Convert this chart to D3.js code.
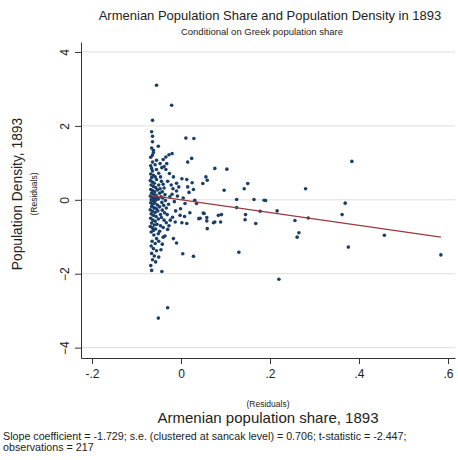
<!DOCTYPE html>
<html>
<head>
<meta charset="utf-8">
<script src="https://cdn.jsdelivr.net/npm/d3@7"></script>
<style>
  body { margin: 0; background: #fff; }
  svg { font-family: "Liberation Sans", Arial, sans-serif; }
  .grid line { stroke: #dedede; stroke-width: 1; }
  .axis path, .axis line { stroke: #333; }
  .axis text { fill: #222; font-size: 12px; }
</style>
</head>
<body>
<div id="chart"></div>
<script>
// residual of Armenian population share (x) and of population density (y), 1893
var armShare = [
  -0.055, -0.021, 0.011, 0.029, -0.020, -0.027, -0.034, -0.040, 0.015, 0.024,
  -0.032, 0.076, 0.103, 0.049, 0.056, 0.059, 0.097, 0.150, 0.142, 0.125,
  0.164, 0.187, 0.190, 0.125, 0.052, 0.043, 0.058, 0.058, 0.059, 0.076,
  0.084, 0.091, 0.089, 0.145, 0.144, 0.178, 0.216, 0.168, 0.130, 0.220,
  0.280, 0.256, 0.265, 0.261, 0.286, 0.384, 0.369, 0.362, 0.376, 0.457,
  0.584, 0.002, 0.013, 0.025, 0.028, -0.010, 0.031, 0.035, 0.009, -0.001,
  -0.002, -0.019, -0.013, 0.002, 0.013, 0.050, 0.040, 0.073, -0.036, -0.017,
  -0.010, 0.004, 0.028, -0.066, -0.043, -0.030, -0.051, -0.062, -0.051, -0.040,
  -0.026, -0.017, -0.064, -0.066, -0.064, -0.064, -0.051, -0.062, -0.064, -0.055,
  -0.047, -0.043,
  -0.068, -0.066, -0.064, -0.068, -0.062, -0.066, -0.058, -0.069, -0.064, -0.060,
  -0.055, -0.067, -0.062, -0.057, -0.050, -0.068, -0.064, -0.059, -0.053, -0.066,
  -0.061, -0.056, -0.048, -0.069, -0.065, -0.060, -0.054, -0.067, -0.062, -0.057,
  -0.051, -0.045, -0.068, -0.064, -0.059, -0.053, -0.066, -0.061, -0.055, -0.048,
  -0.069, -0.064, -0.058, -0.052, -0.067, -0.062, -0.056, -0.046, -0.068, -0.063,
  -0.058, -0.051, -0.066, -0.060, -0.054, -0.069, -0.064, -0.057, -0.067, -0.061,
  -0.055, -0.065, -0.058, -0.050, -0.067, -0.062, -0.055, -0.066, -0.060, -0.064,
  -0.057, -0.050, -0.068, -0.045, -0.042,
  -0.066, -0.062, -0.068, -0.064, -0.058, -0.055, -0.050, -0.046, -0.044, -0.040,
  -0.047, -0.042, -0.038, -0.036, -0.041, -0.035, -0.043, -0.039, -0.033, -0.042,
  -0.037, -0.031, -0.044, -0.038, -0.033, -0.046, -0.040, -0.030, -0.048, -0.028,
  -0.025, -0.030, -0.022, -0.034, -0.038,
  -0.020, -0.015, -0.008, -0.012, -0.005, -0.024, -0.018, -0.027, 0.005, 0.018,
  0.020, -0.010, 0.008, 0.015, -0.060
];
var popDensity = [
  3.10, 2.56, 1.67, 1.66, 1.25, 1.22, 1.16, 1.09, 1.02, 1.12,
  0.98, 0.85, 0.83, 0.44, 0.62, 0.53, 0.26, 0.44, 0.30, 0.01,
  0.01, -0.01, -0.02, -0.21, -0.37, -0.50, -0.48, -0.57, -0.78, -0.60,
  -0.42, -0.40, -0.60, -0.40, -0.54, -0.31, -0.30, -0.64, -1.42, -2.15,
  0.30, -0.56, -0.89, -1.01, -0.49, 1.04, -0.09, -0.40, -1.28, -0.96,
  -1.49, 0.57, 0.55, 0.46, 0.28, 0.24, -0.01, -0.10, -0.10, -0.24,
  -0.42, -0.47, -0.60, -0.62, -0.64, -0.36, -0.51, -0.62, -0.98, -1.05,
  -1.17, -1.46, -1.53, -1.91, -1.94, -2.92, -3.20, -0.83, -0.92, -1.01,
  0.71, 0.62, 2.15, 1.84, 1.72, 1.57, 1.45, 1.34, 1.21, 1.07,
  0.98, 0.87,
  0.92, 0.85, 0.78, 0.70, 0.66, 0.60, 0.62, 0.52, 0.48, 0.45,
  0.55, 0.40, 0.36, 0.33, 0.40, 0.28, 0.25, 0.22, 0.27, 0.18,
  0.14, 0.12, 0.18, 0.10, 0.06, 0.04, 0.07, 0.00, -0.03, -0.01,
  0.02, 0.08, -0.08, -0.12, -0.09, -0.14, -0.18, -0.21, -0.24, -0.19,
  -0.27, -0.31, -0.34, -0.30, -0.38, -0.42, -0.45, -0.40, -0.50, -0.55,
  -0.58, -0.52, -0.63, -0.68, -0.66, -0.72, -0.76, -0.79, -0.87, -0.95,
  -1.05, -1.12, -1.18, -1.12, -1.25, -1.32, -1.38, -1.45, -1.52, -1.62,
  -1.68, -1.55, -1.78, -1.35, -1.20,
  1.40, 1.28, 1.15, 1.02, 0.95, 0.82, 0.72, 0.62, 0.50, 0.42,
  0.30, 0.22, 0.32, 0.14, 0.05, -0.02, -0.07, -0.15, -0.22, -0.28,
  -0.35, -0.40, -0.48, -0.55, -0.62, -0.70, -0.75, -0.80, -0.85, -0.12,
  0.08, 0.50, 0.40, 0.82, 0.90,
  0.15, -0.05, 0.10, -0.30, 0.35, -0.55, 0.30, -0.70, 0.05, 0.20,
  -0.35, 0.45, -0.45, 0.35, -0.22
];

var xTicks = [-0.2, 0, 0.2, 0.4, 0.6];
var xTickLabels = ["-.2", "0", ".2", ".4", ".6"];
var yTicks = [-4, -2, 0, 2, 4];

// fitted line from the regression
var slope = -1.729;
var intercept = 0;

var W = 458, H = 460;
var plot = { left: 81, right: 455, top: 42, bottom: 358 };

var svg = d3.select("#chart").append("svg")
    .attr("width", W)
    .attr("height", H);

var x = d3.scaleLinear().domain([-0.2247, 0.6157]).range([plot.left, plot.right]);
var y = d3.scaleLinear().domain([-4.28, 4.27]).range([plot.bottom, plot.top]);

// grid lines
svg.append("g").attr("class", "grid")
  .selectAll("line").data(yTicks).enter().append("line")
    .attr("x1", plot.left).attr("x2", plot.right)
    .attr("y1", d => y(d)).attr("y2", d => y(d));

// axes
var yAxis = d3.axisLeft(y).tickValues(yTicks).tickSize(6).tickSizeOuter(0).tickFormat(d3.format("d"));
var yAxisG = svg.append("g").attr("class", "axis")
    .attr("transform", "translate(" + plot.left + ",0)")
    .call(yAxis);
// vertical tick labels, as Stata draws them
yAxisG.selectAll(".tick text")
    .attr("x", 0)
    .attr("y", 0)
    .attr("dy", null)
    .attr("transform", "translate(-12,0) rotate(-90)")
    .style("text-anchor", "middle");

var xAxis = d3.axisBottom(x).tickValues(xTicks).tickSize(6).tickSizeOuter(0)
    .tickFormat((d, i) => xTickLabels[i]);
svg.append("g").attr("class", "axis")
    .attr("transform", "translate(0," + plot.bottom + ")")
    .call(xAxis)
    .selectAll("text").attr("dy", "0.9em");

// points
svg.append("g").selectAll("circle")
    .data(d3.range(armShare.length)).enter().append("circle")
    .attr("cx", i => x(armShare[i]))
    .attr("cy", i => y(popDensity[i]))
    .attr("r", 1.8)
    .attr("fill", "#1a3f66");

// regression line
var xr = d3.extent(armShare);
svg.append("line")
    .attr("x1", x(xr[0])).attr("y1", y(intercept + slope * xr[0]))
    .attr("x2", x(xr[1])).attr("y2", y(intercept + slope * xr[1]))
    .attr("stroke", "#9a3a3e")
    .attr("stroke-width", 1.2);

// titles
var cx = (plot.left + plot.right) / 2;
svg.append("text").attr("x", cx + 2).attr("y", 20)
    .attr("text-anchor", "middle").attr("font-size", 13).attr("fill", "#222")
    .text("Armenian Population Share and Population Density in 1893");
svg.append("text").attr("x", cx - 6).attr("y", 35)
    .attr("text-anchor", "middle").attr("font-size", 9.5).attr("fill", "#222")
    .text("Conditional on Greek population share");

var cy = (plot.top + plot.bottom) / 2;
svg.append("text")
    .attr("transform", "translate(22," + (cy - 6) + ") rotate(-90)")
    .attr("text-anchor", "middle").attr("font-size", 13.8).attr("fill", "#222")
    .text("Population Density, 1893");
svg.append("text")
    .attr("transform", "translate(37," + (cy - 6) + ") rotate(-90)")
    .attr("text-anchor", "middle").attr("font-size", 8.5).attr("fill", "#222")
    .text("(Residuals)");

svg.append("text").attr("x", cx).attr("y", 407)
    .attr("text-anchor", "middle").attr("font-size", 8.5).attr("fill", "#222")
    .text("(Residuals)");
svg.append("text").attr("x", cx).attr("y", 423)
    .attr("text-anchor", "middle").attr("font-size", 15).attr("fill", "#222")
    .text("Armenian population share, 1893");

svg.append("text").attr("x", 3).attr("y", 440)
    .attr("font-size", 10.7).attr("fill", "#222")
    .text("Slope coefficient = -1.729; s.e. (clustered at sancak level) = 0.706; t-statistic = -2.447;");
svg.append("text").attr("x", 3).attr("y", 451)
    .attr("font-size", 10.7).attr("fill", "#222")
    .text("observations = 217");
</script>
</body>
</html>
